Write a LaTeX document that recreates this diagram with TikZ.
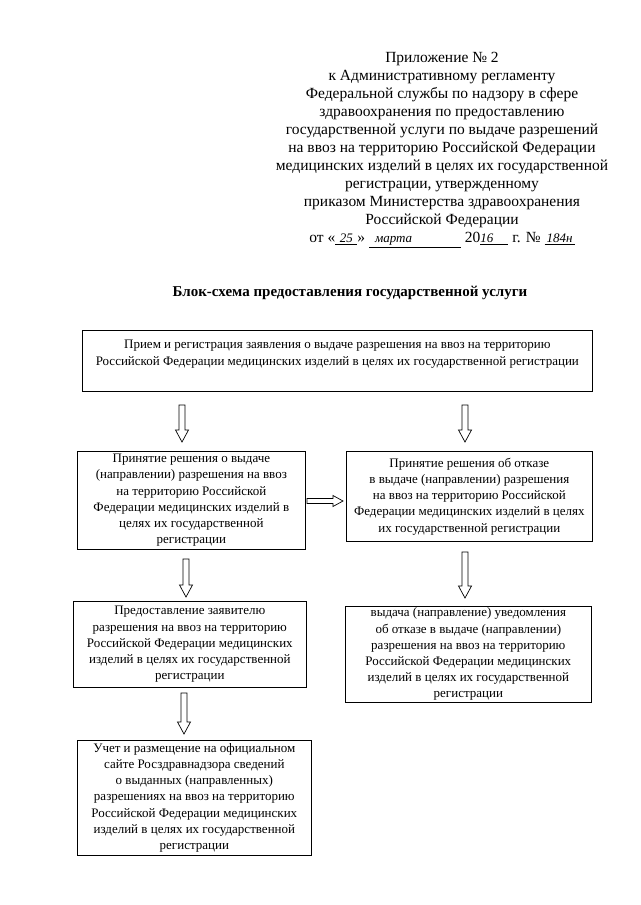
\documentclass[tikz,border=0pt]{standalone}
\usepackage{fontspec}
\setmainfont{Liberation Serif}
\usetikzlibrary{calc}
\tikzset{
  box/.style={draw, line width=0.7pt, align=center, font=\fontsize{13}{16.2}\selectfont, inner sep=0pt, anchor=north west},
  downarr/.style={draw, line width=0.7pt, to path={let \p1=(\tikztostart), \p2=(\tikztotarget) in
     (\x1-3pt,\y1) -- (\x1-3pt,\y2+12pt) -- (\x1-6.5pt,\y2+12pt) -- (\x1,\y2) -- (\x1+6.5pt,\y2+12pt) -- (\x1+3pt,\y2+12pt) -- (\x1+3pt,\y1) -- cycle}},
  rightarr/.style={draw, line width=0.7pt, to path={let \p1=(\tikztostart), \p2=(\tikztotarget) in
     (\x1,\y1+2.5pt) -- (\x2-10pt,\y1+2.5pt) -- (\x2-10pt,\y1+5.5pt) -- (\x2,\y1) -- (\x2-10pt,\y1-5.5pt) -- (\x2-10pt,\y1-2.5pt) -- (\x1,\y1-2.5pt) -- cycle}},
  hdr/.style={align=center, font=\fontsize{15.5}{18}\selectfont, inner sep=0pt},
  ttl/.style={font=\fontsize{15}{18}\bfseries\selectfont, inner sep=0pt},
  hw/.style={}
}
\newcommand{\hwr}[1]{{\itshape\fontsize{13}{15}\selectfont #1}}
\begin{document}
\begin{tikzpicture}[x=1pt,y=-1pt]
\useasboundingbox (0,0) rectangle (640,905);
\fill[white] (0,0) rectangle (640,905);

\node[hdr] (header) at (442,150) {Приложение № 2\\
к Административному регламенту\\
Федеральной службы по надзору в сфере\\
здравоохранения по предоставлению\\
государственной услуги по выдаче разрешений\\
на ввоз на территорию Российской Федерации\\
медицинских изделий в целях их государственной\\
регистрации, утвержденному\\
приказом Министерства здравоохранения\\
Российской Федерации\\
от «\underline{\makebox[22pt]{\hwr{25}}}» \underline{\makebox[92pt][l]{\hspace{6pt}\hwr{марта}}} 20\underline{\makebox[28pt][l]{\hwr{16}}} г. № \underline{\makebox[30pt]{\hwr{184н}}}};

\node[ttl] (title) at (350,293) {Блок-схема предоставления государственной услуги};

\node[box, minimum width=510pt, minimum height=61pt] (b1) at (82,330)
  {Прием и регистрация заявления о выдаче разрешения на ввоз на территорию\\
   Российской Федерации медицинских изделий в целях их государственной регистрации\\ ~};

\node[box, minimum width=228pt, minimum height=98pt] (b2) at (77,451)
  {Принятие решения о выдаче\\(направлении) разрешения на ввоз\\на территорию Российской\\Федерации медицинских изделий в\\целях их государственной\\регистрации};

\node[box, minimum width=246pt, minimum height=90pt] (b3) at (346,451)
  {Принятие решения об отказе\\в выдаче (направлении) разрешения\\на ввоз на территорию Российской\\Федерации медицинских изделий в целях\\их государственной регистрации};

\node[box, minimum width=233pt, minimum height=86pt] (b4) at (73,601)
  {Предоставление заявителю\\разрешения на ввоз на территорию\\Российской Федерации медицинских\\изделий в целях их государственной\\регистрации};

\node[box, minimum width=246pt, minimum height=96pt] (b5) at (345,606)
  {выдача (направление) уведомления\\об отказе в выдаче (направлении)\\разрешения на ввоз на территорию\\Российской Федерации медицинских\\изделий в целях их государственной\\регистрации};

\node[box, minimum width=234pt, minimum height=115pt] (b6) at (77,740)
  {Учет и размещение на официальном\\сайте Росздравнадзора сведений\\о выданных (направленных)\\разрешениях на ввоз на территорию\\Российской Федерации медицинских\\изделий в целях их государственной\\регистрации};

\coordinate (a1s) at (182,405); \coordinate (a1e) at (182,442);
\coordinate (a2s) at (465,405); \coordinate (a2e) at (465,442);
\coordinate (a3s) at (186,559); \coordinate (a3e) at (186,597);
\coordinate (a4s) at (465,552); \coordinate (a4e) at (465,598);
\coordinate (a5s) at (184,693); \coordinate (a5e) at (184,734);
\coordinate (hs) at (307,501); \coordinate (he) at (343,501);

\path[downarr] (a1s) to (a1e);
\path[downarr] (a2s) to (a2e);
\path[downarr] (a3s) to (a3e);
\path[downarr] (a4s) to (a4e);
\path[downarr] (a5s) to (a5e);
\path[rightarr] (hs) to (he);
\end{tikzpicture}
\end{document}
